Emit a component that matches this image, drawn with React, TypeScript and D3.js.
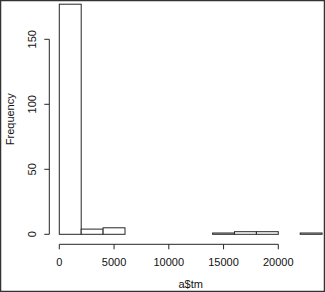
import * as d3 from 'd3';
import React from 'react';

// histogram of a$tm, bins of 2000
const breaks = [0, 2000, 4000, 6000, 8000, 10000, 12000, 14000, 16000, 18000, 20000, 22000, 24000];
const counts = [177, 4, 5, 0, 0, 0, 0, 1, 2, 2, 0, 1];
const xTicks = [0, 5000, 10000, 15000, 20000];
const yTicks = [0, 50, 100, 150];

const W = 325;
const H = 292;
const FONT = "'Liberation Sans', Arial, sans-serif";
const INK = '#262626';

const App: React.FC = () => {
  const x = d3.scaleLinear().domain([0, 24000]).range([59.3, 322.1]);
  const y = d3.scaleLinear().domain([0, 177]).range([234.3, 4.2]);

  const axisY = 244.3;
  const axisX = 49.3;

  const bins = counts.map((c, i) => ({ x0: breaks[i], x1: breaks[i + 1], count: c }));

  return (
    <svg width={W} height={H} style={{ position: 'absolute', left: 0, top: 0, background: '#fff' }}>
      <rect x={0.5} y={0.5} width={W - 1} height={H - 1} fill="none" stroke="#333" strokeWidth={1.5} />
      <g fill="none" stroke={INK} strokeWidth={1}>
        {bins.map((b, i) => (
          <rect
            key={i}
            x={x(b.x0)}
            y={y(b.count)}
            width={x(b.x1) - x(b.x0)}
            height={y(0) - y(b.count)}
            fill="#fff"
          />
        ))}
      </g>
      {/* x axis */}
      <g stroke={INK} strokeWidth={1}>
        <line x1={x(xTicks[0])} x2={x(xTicks[xTicks.length - 1])} y1={axisY} y2={axisY} />
        {xTicks.map(t => (
          <line key={t} x1={x(t)} x2={x(t)} y1={axisY} y2={axisY + 5} />
        ))}
      </g>
      {xTicks.map(t => (
        <text key={t} x={x(t)} y={265.5} textAnchor="middle" fontFamily={FONT} fontSize={11} fill="#111">
          {t}
        </text>
      ))}
      {/* y axis */}
      <g stroke={INK} strokeWidth={1}>
        <line x1={axisX} x2={axisX} y1={y(yTicks[0])} y2={y(yTicks[yTicks.length - 1])} />
        {yTicks.map(t => (
          <line key={t} x1={axisX} x2={axisX - 5} y1={y(t)} y2={y(t)} />
        ))}
      </g>
      {yTicks.map(t => (
        <text
          key={t}
          transform={`translate(35.5,${y(t)}) rotate(-90)`}
          textAnchor="middle"
          fontFamily={FONT}
          fontSize={11}
          fill="#111"
        >
          {t}
        </text>
      ))}
      <text transform={`translate(13.5,${(y(0) + y(177)) / 2}) rotate(-90)`} textAnchor="middle" fontFamily={FONT} fontSize={11} fill="#111">
        Frequency
      </text>
      <text x={190.7} y={287.5} textAnchor="middle" fontFamily={FONT} fontSize={11} fill="#111">
        a$tm
      </text>
    </svg>
  );
};

export default App;
